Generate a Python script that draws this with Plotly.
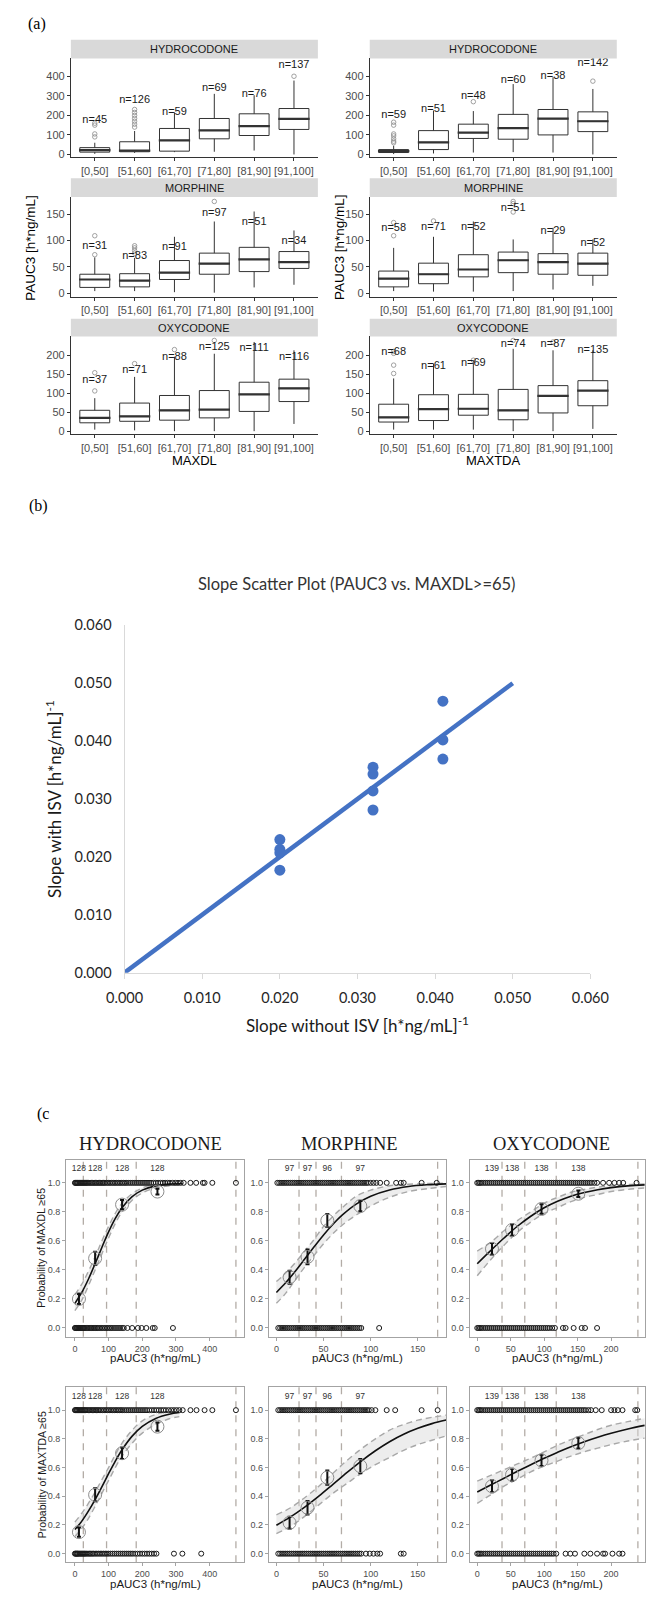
import plotly.graph_objects as go

W, H = 665, 1597

# ======================= Panel (a) data =======================
bins = ["[0,50]", "[51,60]", "[61,70]", "[71,80]", "[81,90]", "[91,100]"]

a_hyd_dl_low = [3, 8, 12, 14, 20, 0]
a_hyd_dl_q1 = [12, 14, 17, 80, 97, 128]
a_hyd_dl_med = [22, 20, 72, 123, 145, 182]
a_hyd_dl_q3 = [35, 65, 133, 184, 208, 235]
a_hyd_dl_high = [60, 120, 215, 310, 303, 378]
a_hyd_dl_out_bin = [0, 0, 0, 0, 1, 1, 1, 1, 1, 1, 1, 5]
a_hyd_dl_out_val = [90, 105, 150, 160, 140, 155, 170, 185, 200, 215, 230, 400]
a_hyd_dl_n = [45, 126, 59, 69, 76, 137]
a_hyd_dl_n_y = [174, 277, 218, 340, 310, 456]

a_hyd_da_low = [2, 5, 10, 12, 10, 0]
a_hyd_da_q1 = [10, 25, 82, 78, 100, 117]
a_hyd_da_med = [17, 62, 112, 135, 183, 170]
a_hyd_da_q3 = [25, 122, 155, 205, 230, 218]
a_hyd_da_high = [45, 225, 222, 360, 395, 335]
a_hyd_da_out_bin = [0, 0, 0, 0, 0, 0, 0, 2, 5]
a_hyd_da_out_val = [60, 68, 80, 95, 105, 150, 165, 270, 375]
a_hyd_da_n = [59, 51, 48, 60, 38, 142]
a_hyd_da_n_y = [199, 230, 298, 378, 400, 468]

a_mor_dl_low = [4, 4, 2, 1, 11, 16]
a_mor_dl_q1 = [11, 12, 26, 36, 41, 47]
a_mor_dl_med = [26, 24, 39, 56, 64, 59]
a_mor_dl_q3 = [36, 37, 62, 76, 87, 79]
a_mor_dl_high = [68, 67, 107, 136, 155, 119]
a_mor_dl_out_bin = [0, 0, 1, 1, 1, 1, 3]
a_mor_dl_out_val = [73, 109, 76, 81, 86, 90, 174]
a_mor_dl_n = [31, 83, 91, 97, 51, 34]
a_mor_dl_n_y = [89, 70, 87, 152, 134, 98]

a_mor_da_low = [4, 3, 3, 4, 7, 14]
a_mor_da_q1 = [12, 18, 31, 39, 36, 34]
a_mor_da_med = [27.5, 36, 45, 62.5, 59, 56]
a_mor_da_q3 = [42, 57, 73, 78, 75, 76]
a_mor_da_high = [86, 107, 136, 102, 124, 102]
a_mor_da_out_bin = [0, 0, 1, 3, 3, 3]
a_mor_da_out_val = [109, 134, 137, 154, 170, 174]
a_mor_da_n = [58, 71, 52, 51, 29, 52]
a_mor_da_n_y = [124, 125, 126, 162, 117, 94]

a_oxy_dl_low = [4, 2, 0, 0, 0, 19]
a_oxy_dl_q1 = [22, 26, 29, 35, 52, 78]
a_oxy_dl_med = [35, 39, 55, 57, 97, 113]
a_oxy_dl_q3 = [55, 74, 94, 107, 129, 137]
a_oxy_dl_high = [87, 143, 196, 204, 235, 213]
a_oxy_dl_out_bin = [0, 0, 1, 2, 3]
a_oxy_dl_out_val = [106, 154, 178, 215, 239]
a_oxy_dl_n = [37, 71, 88, 125, 111, 116]
a_oxy_dl_n_y = [135, 161, 196, 222, 219, 196]

a_oxy_da_low = [4, 4, 4, 0, 0, 6]
a_oxy_da_q1 = [24, 28, 42, 30, 48, 67]
a_oxy_da_med = [36.5, 58, 59, 55, 93, 107]
a_oxy_da_q3 = [71, 96, 97, 110, 120, 133]
a_oxy_da_high = [139, 178, 187, 217, 213, 213]
a_oxy_da_out_bin = [0, 0, 0, 0, 2, 3, 4]
a_oxy_da_out_val = [152, 174, 205, 210, 187, 239, 235]
a_oxy_da_n = [68, 61, 69, 74, 87, 135]
a_oxy_da_n_y = [207, 170, 178, 230, 230, 213]

# ======================= Panel (b) data =======================
b_slope_no_isv = [0.020, 0.020, 0.020, 0.020, 0.032, 0.032, 0.032, 0.032, 0.041, 0.041, 0.041]
b_slope_isv = [0.0230, 0.0213, 0.0207, 0.0177, 0.0355, 0.0343, 0.0314, 0.0281, 0.0469, 0.0402, 0.0369]
b_identity_x = [0.0, 0.050]
b_identity_y = [0.0, 0.050]
b_ticks = [0.0, 0.01, 0.02, 0.03, 0.04, 0.05, 0.06]

# ======================= Panel (c) data =======================
c_hyd_bounds = [25, 94, 182, 478]
c_mor_bounds = [24, 42, 69, 171]
c_oxy_bounds = [37, 71, 118, 240]
c_hyd_bin_x = [12, 60, 140, 245]
c_mor_bin_x = [14, 33, 54, 89]
c_oxy_bin_x = [22, 52, 96, 151]
c_hyd_bin_n = [128, 128, 128, 128]
c_mor_bin_n = [97, 97, 96, 97]
c_oxy_bin_n = [139, 138, 138, 138]

# MAXDL >= 65
c_hyd_dl_obs = [0.20, 0.48, 0.85, 0.94]
c_hyd_dl_err = [0.035, 0.045, 0.032, 0.02]
c_hyd_dl_fx = [0, 20, 40, 60, 80, 100, 120, 140, 170, 200, 240, 280, 320]
c_hyd_dl_fit = [0.170, 0.243, 0.336, 0.443, 0.555, 0.662, 0.755, 0.829, 0.905, 0.950, 0.979, 0.991, 0.996]
c_hyd_dl_lo = [0.12, 0.19, 0.29, 0.40, 0.51, 0.62, 0.72, 0.80, 0.88, 0.93, 0.965, 0.98, 0.99]
c_hyd_dl_hi = [0.23, 0.30, 0.39, 0.49, 0.60, 0.70, 0.79, 0.86, 0.925, 0.965, 0.99, 0.997, 0.999]
c_hyd_dl_yes = [0, 2, 4, 6, 8, 10, 13, 16, 19, 22, 25, 28, 31, 34, 37, 41, 45, 49, 53, 57, 61, 65, 69, 73,
                77, 81, 85, 89, 94, 99, 104, 109, 114, 119, 124, 129, 134, 139, 144, 149, 154, 160, 166,
                172, 178, 184, 190, 196, 202, 208, 214, 220, 226, 233, 240, 247, 254, 261, 268, 275, 282,
                290, 298, 306, 314, 323, 343, 360, 380, 385, 408, 478]
c_hyd_dl_no = [0, 2, 4, 6, 8, 10, 12, 15, 18, 21, 24, 27, 30, 34, 38, 42, 46, 50, 54, 58, 62, 66, 70, 75,
               80, 85, 90, 95, 100, 105, 110, 116, 122, 128, 134, 140, 145, 156, 170, 187, 198, 212, 231,
               237, 291]

c_mor_dl_obs = [0.35, 0.49, 0.74, 0.84]
c_mor_dl_err = [0.045, 0.05, 0.045, 0.035]
c_mor_dl_fx = [0, 10, 20, 30, 40, 50, 60, 70, 85, 100, 120, 140, 160, 180]
c_mor_dl_fit = [0.245, 0.313, 0.391, 0.475, 0.559, 0.641, 0.715, 0.779, 0.855, 0.908, 0.951, 0.975, 0.987, 0.993]
c_mor_dl_lo = [0.17, 0.24, 0.33, 0.42, 0.50, 0.58, 0.65, 0.71, 0.78, 0.84, 0.90, 0.94, 0.96, 0.975]
c_mor_dl_hi = [0.32, 0.38, 0.45, 0.53, 0.61, 0.70, 0.77, 0.83, 0.91, 0.95, 0.98, 0.99, 0.995, 0.998]
c_mor_dl_yes = [1, 3, 5, 7, 9, 11, 13, 15, 17, 19, 21, 23, 25, 27, 29, 31, 33, 35, 37, 39, 41, 43, 45, 47,
                49, 51, 53, 55, 57, 59, 61, 63, 65, 67, 69, 71, 73, 75, 77, 79, 81, 83, 85, 87, 89, 91, 93,
                95, 97, 100, 103, 106, 110, 117, 127, 132, 135, 154, 170]
c_mor_dl_no = [2, 4, 6, 8, 10, 12, 14, 16, 18, 20, 22, 24, 26, 28, 30, 32, 34, 36, 38, 40, 42, 44, 46, 48,
               50, 52, 54, 56, 58, 60, 62, 64, 66, 68, 70, 72, 74, 76, 78, 80, 82, 84, 86, 88, 90, 109]

c_oxy_dl_obs = [0.545, 0.675, 0.82, 0.925]
c_oxy_dl_err = [0.04, 0.04, 0.033, 0.022]
c_oxy_dl_fx = [0, 20, 40, 60, 80, 100, 120, 140, 160, 180, 200, 225, 250]
c_oxy_dl_fit = [0.443, 0.533, 0.620, 0.701, 0.770, 0.828, 0.873, 0.908, 0.934, 0.953, 0.967, 0.979, 0.986]
c_oxy_dl_lo = [0.36, 0.47, 0.57, 0.66, 0.73, 0.79, 0.83, 0.87, 0.90, 0.92, 0.94, 0.955, 0.965]
c_oxy_dl_hi = [0.53, 0.59, 0.67, 0.74, 0.80, 0.86, 0.90, 0.935, 0.955, 0.97, 0.98, 0.988, 0.993]
c_oxy_dl_yes = [0, 2, 4, 6, 9, 12, 15, 18, 21, 24, 27, 30, 33, 36, 39, 42, 45, 48, 51, 54, 57, 60, 63, 66,
                69, 72, 75, 78, 81, 84, 87, 90, 93, 96, 99, 102, 105, 108, 111, 114, 117, 120, 123, 126,
                129, 132, 135, 138, 141, 144, 147, 150, 153, 156, 159, 162, 165, 168, 171, 175, 179, 188,
                197, 205, 212, 218, 238]
c_oxy_dl_no = [0, 2, 4, 6, 9, 12, 15, 18, 21, 24, 27, 30, 33, 36, 39, 42, 45, 48, 51, 54, 57, 60, 63, 66,
               69, 72, 75, 78, 81, 84, 87, 90, 93, 96, 99, 102, 105, 108, 112, 116, 128, 132, 144, 156,
               161, 179]

# MAXTDA >= 65
c_hyd_da_obs = [0.15, 0.41, 0.70, 0.885]
c_hyd_da_err = [0.032, 0.045, 0.04, 0.028]
c_hyd_da_fx = [0, 20, 40, 60, 80, 100, 120, 140, 170, 200, 240, 280, 310]
c_hyd_da_fit = [0.168, 0.225, 0.296, 0.377, 0.466, 0.557, 0.645, 0.724, 0.819, 0.887, 0.942, 0.971, 0.983]
c_hyd_da_lo = [0.12, 0.175, 0.245, 0.33, 0.42, 0.51, 0.60, 0.68, 0.77, 0.84, 0.90, 0.94, 0.955]
c_hyd_da_hi = [0.22, 0.28, 0.35, 0.43, 0.515, 0.60, 0.69, 0.77, 0.86, 0.925, 0.97, 0.99, 0.995]
c_hyd_da_yes = [0, 2, 4, 6, 8, 11, 14, 17, 20, 23, 26, 29, 32, 36, 40, 44, 48, 52, 56, 60, 64, 68, 72, 77,
                82, 87, 92, 97, 102, 107, 112, 117, 122, 127, 132, 137, 142, 148, 154, 160, 166, 172, 178,
                184, 190, 196, 202, 208, 214, 221, 228, 235, 242, 249, 256, 263, 270, 278, 286, 294, 302,
                310, 320, 343, 361, 385, 408, 478]
c_hyd_da_no = [0, 2, 4, 6, 8, 10, 13, 16, 19, 22, 25, 28, 31, 35, 39, 43, 47, 51, 55, 60, 65, 70, 75, 80,
               85, 90, 95, 100, 106, 112, 118, 124, 130, 136, 142, 148, 154, 160, 166, 172, 179, 186, 193,
               200, 207, 214, 221, 228, 235, 242, 294, 319, 375]

c_mor_da_obs = [0.215, 0.32, 0.53, 0.61]
c_mor_da_err = [0.042, 0.047, 0.05, 0.05]
c_mor_da_fx = [0, 15, 30, 45, 60, 75, 90, 105, 120, 135, 150, 165, 180]
c_mor_da_fit = [0.198, 0.256, 0.324, 0.401, 0.483, 0.566, 0.645, 0.717, 0.780, 0.832, 0.873, 0.906, 0.931]
c_mor_da_lo = [0.14, 0.19, 0.26, 0.34, 0.42, 0.49, 0.56, 0.62, 0.67, 0.72, 0.76, 0.79, 0.82]
c_mor_da_hi = [0.27, 0.32, 0.39, 0.47, 0.56, 0.65, 0.73, 0.80, 0.86, 0.90, 0.93, 0.95, 0.965]
c_mor_da_yes = [2, 4, 6, 8, 10, 12, 14, 16, 18, 20, 22, 24, 26, 28, 30, 32, 34, 36, 38, 40, 42, 44, 46, 48,
                50, 52, 54, 56, 58, 60, 62, 64, 66, 68, 70, 72, 74, 76, 78, 80, 82, 84, 86, 88, 90, 92, 94,
                96, 98, 101, 105, 117, 126, 154, 171]
c_mor_da_no = [2, 4, 6, 8, 10, 12, 14, 16, 18, 20, 22, 24, 26, 28, 30, 32, 34, 36, 38, 40, 42, 44, 46, 48,
               50, 52, 54, 56, 58, 60, 62, 64, 66, 68, 70, 72, 74, 76, 78, 80, 82, 84, 86, 88, 90, 95, 99,
               103, 107, 110, 132, 135]

c_oxy_da_obs = [0.47, 0.55, 0.65, 0.77]
c_oxy_da_err = [0.042, 0.042, 0.04, 0.037]
c_oxy_da_fx = [0, 20, 40, 60, 80, 100, 120, 140, 160, 180, 200, 225, 250]
c_oxy_da_fit = [0.430, 0.478, 0.526, 0.574, 0.620, 0.665, 0.706, 0.745, 0.780, 0.811, 0.839, 0.869, 0.894]
c_oxy_da_lo = [0.35, 0.41, 0.47, 0.52, 0.57, 0.61, 0.645, 0.68, 0.71, 0.735, 0.76, 0.785, 0.805]
c_oxy_da_hi = [0.505, 0.545, 0.585, 0.625, 0.665, 0.71, 0.755, 0.795, 0.83, 0.865, 0.895, 0.92, 0.943]
c_oxy_da_yes = [0, 2, 4, 6, 9, 12, 15, 18, 21, 24, 27, 30, 33, 36, 39, 42, 45, 48, 51, 54, 57, 60, 63, 66,
                69, 72, 75, 78, 81, 84, 87, 90, 93, 96, 99, 102, 105, 108, 111, 114, 117, 120, 123, 126,
                129, 132, 135, 138, 141, 144, 147, 150, 153, 156, 159, 162, 166, 170, 177, 186, 200, 205,
                210, 217, 236, 239]
c_oxy_da_no = [0, 2, 4, 6, 9, 12, 15, 18, 21, 24, 27, 30, 33, 36, 39, 42, 45, 48, 51, 54, 57, 60, 63, 66,
               69, 72, 75, 78, 81, 84, 87, 90, 93, 96, 99, 102, 105, 108, 111, 114, 118, 132, 139, 146,
               160, 169, 179, 188, 191, 202, 212, 217]

# ======================= helpers =======================
SANS = "Liberation Sans, Arial, sans-serif"
SERIF = "Liberation Serif, Times New Roman, serif"
CAL = "Lato, Carlito, Calibri, sans-serif"

fig = go.Figure()
shapes = []
annotations = []


def names(i):
    s = '' if i == 1 else str(i)
    return 'x' + s, 'y' + s, 'xaxis' + s, 'yaxis' + s


def xd(l, r):
    return [l / W, r / W]


def yd(t, b):
    return [1 - b / H, 1 - t / H]


def px_x(v):
    return v / W


def px_y(v):
    return 1 - v / H


def text(x, y, s, size, family=SANS, color='#1a1a1a', angle=0, xanchor='center', yanchor='middle'):
    annotations.append(dict(x=px_x(x), y=px_y(y), xref='paper', yref='paper', text=s, showarrow=False,
                            font=dict(size=size, family=family, color=color), textangle=angle,
                            xanchor=xanchor, yanchor=yanchor))


def box_panel(i, l, r, t_strip, t, b, yrange, yticks, label, low, q1, med, q3, high, ob, ov, ns, ny):
    xr, yr, xa, ya = names(i)
    fig.add_trace(go.Box(x=bins, q1=q1, median=med, q3=q3, lowerfence=low, upperfence=high,
                         xaxis=xr, yaxis=yr, fillcolor='white', line=dict(color='#333333', width=1),
                         boxpoints=False, whiskerwidth=0, width=0.75, hoverinfo='skip', showlegend=False))
    fig.add_trace(go.Scatter(x=bins, y=med, xaxis=xr, yaxis=yr, mode='markers', hoverinfo='skip',
                             marker=dict(symbol='line-ew', size=22.4, color='#333333',
                                         line=dict(color='#333333', width=2.2))))
    fig.add_trace(go.Scatter(x=[bins[k] for k in ob], y=ov, xaxis=xr, yaxis=yr, mode='markers',
                             hoverinfo='skip',
                             marker=dict(symbol='circle-open', size=4.5, color='#8a8a8a',
                                         line=dict(width=0.8, color='#8a8a8a'))))
    fig.add_trace(go.Scatter(x=bins, y=ny, xaxis=xr, yaxis=yr, mode='text', hoverinfo='skip',
                             text=[f"n={n}" for n in ns],
                             textfont=dict(size=11, family=SANS, color='#1a1a1a')))
    fig.update_layout(**{
        xa: dict(domain=xd(l, r), anchor=yr, type='category', range=[-0.6, 5.6], showline=True,
                 linecolor='#333333', linewidth=1, ticks='outside', ticklen=3, tickcolor='#333333',
                 tickfont=dict(size=11, family=SANS, color='#4d4d4d'), showgrid=False, zeroline=False),
        ya: dict(domain=yd(t, b), anchor=xr, range=yrange, tickvals=yticks, showline=True,
                 linecolor='#333333', linewidth=1, ticks='outside', ticklen=3, tickcolor='#333333',
                 tickfont=dict(size=11, family=SANS, color='#4d4d4d'), showgrid=False, zeroline=False),
    })
    shapes.append(dict(type='rect', xref='paper', yref='paper', x0=px_x(l), x1=px_x(r),
                       y0=px_y(t), y1=px_y(t_strip), fillcolor='#d9d9d9', line=dict(width=0), layer='below'))
    text((l + r) / 2, (t_strip + t) / 2, label, 11, color='#1a1a1a')


# ---------------- Panel (a) ----------------
LC = (55, 317)
RC = (372, 634)
ROW1 = (31, 50, 150, [-15, 491], [0, 100, 200, 300, 400])
ROW2 = (171, 190, 291, [-7, 182.5], [0, 50, 100, 150])
ROW3 = (313, 331, 430, [-8.6, 249.5], [0, 50, 100, 150, 200])

box_panel(1, *LC, *ROW1[:3], ROW1[3], ROW1[4], 'HYDROCODONE', a_hyd_dl_low, a_hyd_dl_q1, a_hyd_dl_med,
          a_hyd_dl_q3, a_hyd_dl_high, a_hyd_dl_out_bin, a_hyd_dl_out_val, a_hyd_dl_n, a_hyd_dl_n_y)
box_panel(2, *RC, *ROW1[:3], ROW1[3], ROW1[4], 'HYDROCODONE', a_hyd_da_low, a_hyd_da_q1, a_hyd_da_med,
          a_hyd_da_q3, a_hyd_da_high, a_hyd_da_out_bin, a_hyd_da_out_val, a_hyd_da_n, a_hyd_da_n_y)
box_panel(3, *LC, *ROW2[:3], ROW2[3], ROW2[4], 'MORPHINE', a_mor_dl_low, a_mor_dl_q1, a_mor_dl_med,
          a_mor_dl_q3, a_mor_dl_high, a_mor_dl_out_bin, a_mor_dl_out_val, a_mor_dl_n, a_mor_dl_n_y)
box_panel(4, *RC, *ROW2[:3], ROW2[3], ROW2[4], 'MORPHINE', a_mor_da_low, a_mor_da_q1, a_mor_da_med,
          a_mor_da_q3, a_mor_da_high, a_mor_da_out_bin, a_mor_da_out_val, a_mor_da_n, a_mor_da_n_y)
box_panel(5, *LC, *ROW3[:3], ROW3[3], ROW3[4], 'OXYCODONE', a_oxy_dl_low, a_oxy_dl_q1, a_oxy_dl_med,
          a_oxy_dl_q3, a_oxy_dl_high, a_oxy_dl_out_bin, a_oxy_dl_out_val, a_oxy_dl_n, a_oxy_dl_n_y)
box_panel(6, *RC, *ROW3[:3], ROW3[3], ROW3[4], 'OXYCODONE', a_oxy_da_low, a_oxy_da_q1, a_oxy_da_med,
          a_oxy_da_q3, a_oxy_da_high, a_oxy_da_out_bin, a_oxy_da_out_val, a_oxy_da_n, a_oxy_da_n_y)

text(7, 15, '(a)', 16, family=SERIF, color='#000000', xanchor='left')
text(12, 241, 'PAUC3 [h*ng/mL]', 13.5, color='#000000', angle=-90)
text(340, 241, 'PAUC3 [h*ng/mL]', 13.5, color='#000000', angle=-90)
text(186, 456, 'MAXDL', 13, color='#000000')
text(503, 456, 'MAXTDA', 13, color='#000000')

# ---------------- Panel (b) ----------------
BL, BR, BT, BB = 112, 606, 623, 974
fig.add_trace(go.Scatter(x=b_identity_x, y=b_identity_y, xaxis='x7', yaxis='y7', mode='lines',
                         hoverinfo='skip', line=dict(color='#4472C4', width=4.5)))
fig.add_trace(go.Scatter(x=b_slope_no_isv, y=b_slope_isv, xaxis='x7', yaxis='y7', mode='markers',
                         hoverinfo='skip', marker=dict(color='#4472C4', size=11)))
fig.update_layout(
    xaxis7=dict(domain=xd(BL, BR), anchor='y7', range=[0, 0.06], tickvals=b_ticks, tickformat='.3f',
                showline=True, linecolor='#d9d9d9', linewidth=1.3, ticks='outside', ticklen=5,
                tickcolor='#d9d9d9', showgrid=False, zeroline=False, ticklabelstandoff=7,
                tickfont=dict(size=14.5, family=CAL, color='#262626')),
    yaxis7=dict(domain=yd(BT, BB), anchor='x7', range=[0, 0.06], tickvals=b_ticks, tickformat='.3f',
                showline=True, linecolor='#d9d9d9', linewidth=1.3, ticks='', showgrid=False,
                zeroline=False, ticklabelstandoff=9, tickfont=dict(size=14.5, family=CAL, color='#262626')),
)
text(8, 502, '(b)', 16, family=SERIF, color='#000000', xanchor='left')
text((BL + BR) / 2, 581, 'Slope Scatter Plot (PAUC3 vs. MAXDL>=65)', 16.5, family=CAL, color='#333333')
text((BL + BR) / 2, 1026, 'Slope without ISV [h*ng/mL]<sup>-1</sup>', 17, family=CAL, color='#1a1a1a')
text(36, (BT + BB) / 2, 'Slope with ISV [h*ng/mL]<sup>-1</sup>', 17, family=CAL, color='#1a1a1a', angle=-90)

# ---------------- Panel (c) ----------------


def logit_panel(i, l, r, t, b, xrange, xticks, bounds, bx, bn, obs, err, fx, fit, lo, hi, yes, no):
    xr, yr, xa, ya = names(i)
    kw = dict(xaxis=xr, yaxis=yr, hoverinfo='skip')
    fig.add_trace(go.Scatter(x=fx, y=lo, mode='lines', line=dict(color='#a8a8a8', width=1.4, dash='6px,4px',
                                                                 shape='spline'), **kw))
    fig.add_trace(go.Scatter(x=fx, y=hi, mode='lines', fill='tonexty', fillcolor='rgba(215,215,215,0.45)',
                             line=dict(color='#a8a8a8', width=1.4, dash='6px,4px', shape='spline'), **kw))
    pt = dict(symbol='circle-open', size=5, color='#1a1a1a', line=dict(width=1.0, color='#1a1a1a'))
    fig.add_trace(go.Scatter(x=yes, y=[1.0] * len(yes), mode='markers', marker=pt, **kw))
    fig.add_trace(go.Scatter(x=no, y=[0.0] * len(no), mode='markers', marker=pt, **kw))
    fig.add_trace(go.Scatter(x=fx, y=fit, mode='lines', line=dict(color='#111111', width=1.6, shape='spline'),
                             **kw))
    fig.add_trace(go.Scatter(x=bx, y=obs, mode='markers',
                             marker=dict(symbol='circle-open', size=13, color='#8c8c8c',
                                         line=dict(width=1, color='#8c8c8c')),
                             error_y=dict(type='data', array=err, color='#111111', thickness=2, width=2),
                             **kw))
    fig.add_trace(go.Scatter(x=bx, y=[1.095] * len(bx), mode='text', text=[str(n) for n in bn],
                             textfont=dict(size=8.5, family=SANS, color='#333333'), **kw))
    for v in bounds:
        shapes.append(dict(type='line', xref=xr, yref=yr + ' domain', x0=v, x1=v, y0=0, y1=1,
                           line=dict(color='#b3aca6', width=1.3, dash='7px,7px'), layer='below'))
    fig.update_layout(**{
        xa: dict(domain=xd(l, r), anchor=yr, range=xrange, tickvals=xticks, showline=True, mirror=True,
                 linecolor='#a3a3a3', linewidth=1, ticks='outside', ticklen=3, tickcolor='#a3a3a3',
                 tickfont=dict(size=9, family=SANS, color='#4d4d4d'), showgrid=False, zeroline=False),
        ya: dict(domain=yd(t, b), anchor=xr, range=[-0.06, 1.16], tickvals=[0, 0.2, 0.4, 0.6, 0.8, 1.0],
                 tickformat='.1f', showline=True, mirror=True, linecolor='#a3a3a3', linewidth=1,
                 ticks='outside', ticklen=3, tickcolor='#a3a3a3',
                 tickfont=dict(size=9, family=SANS, color='#4d4d4d'), showgrid=False, zeroline=False),
    })
    text((l + r) / 2, b + 22, 'pAUC3 (h*ng/mL)', 11.5, color='#1a1a1a')


HC = (50, 239, [-26, 503], [0, 100, 200, 300, 400])
MC = (265, 453, [-8, 180], [0, 50, 100, 150])
OC = (478, 664, [-11.3, 250.7], [0, 50, 100, 150, 200])
R1 = (1163, 1342)
R2 = (1393, 1570)

logit_panel(8, HC[0], HC[1], *R1, HC[2], HC[3], c_hyd_bounds, c_hyd_bin_x, c_hyd_bin_n, c_hyd_dl_obs,
            c_hyd_dl_err, c_hyd_dl_fx, c_hyd_dl_fit, c_hyd_dl_lo, c_hyd_dl_hi, c_hyd_dl_yes, c_hyd_dl_no)
logit_panel(9, MC[0], MC[1], *R1, MC[2], MC[3], c_mor_bounds, c_mor_bin_x, c_mor_bin_n, c_mor_dl_obs,
            c_mor_dl_err, c_mor_dl_fx, c_mor_dl_fit, c_mor_dl_lo, c_mor_dl_hi, c_mor_dl_yes, c_mor_dl_no)
logit_panel(10, OC[0], OC[1], *R1, OC[2], OC[3], c_oxy_bounds, c_oxy_bin_x, c_oxy_bin_n, c_oxy_dl_obs,
            c_oxy_dl_err, c_oxy_dl_fx, c_oxy_dl_fit, c_oxy_dl_lo, c_oxy_dl_hi, c_oxy_dl_yes, c_oxy_dl_no)
logit_panel(11, HC[0], HC[1], *R2, HC[2], HC[3], c_hyd_bounds, c_hyd_bin_x, c_hyd_bin_n, c_hyd_da_obs,
            c_hyd_da_err, c_hyd_da_fx, c_hyd_da_fit, c_hyd_da_lo, c_hyd_da_hi, c_hyd_da_yes, c_hyd_da_no)
logit_panel(12, MC[0], MC[1], *R2, MC[2], MC[3], c_mor_bounds, c_mor_bin_x, c_mor_bin_n, c_mor_da_obs,
            c_mor_da_err, c_mor_da_fx, c_mor_da_fit, c_mor_da_lo, c_mor_da_hi, c_mor_da_yes, c_mor_da_no)
logit_panel(13, OC[0], OC[1], *R2, OC[2], OC[3], c_oxy_bounds, c_oxy_bin_x, c_oxy_bin_n, c_oxy_da_obs,
            c_oxy_da_err, c_oxy_da_fx, c_oxy_da_fit, c_oxy_da_lo, c_oxy_da_hi, c_oxy_da_yes, c_oxy_da_no)

text(17, 1117, '(c', 16, family=SERIF, color='#000000', xanchor='left')
text(139, 1147, 'HYDROCODONE', 18.5, family=SERIF, color='#1a1a1a')
text(350, 1147, 'MORPHINE', 18.5, family=SERIF, color='#1a1a1a')
text(565, 1147, 'OXYCODONE', 18.5, family=SERIF, color='#1a1a1a')
text(24, (R1[0] + R1[1]) / 2, 'Probability of MAXDL \u226565', 10.5, color='#1a1a1a', angle=-90)
text(24, (R2[0] + R2[1]) / 2, 'Probability of MAXTDA \u226565', 10.5, color='#1a1a1a', angle=-90)

fig.update_layout(width=W, height=H, margin=dict(l=0, r=0, t=0, b=0), paper_bgcolor='white',
                  plot_bgcolor='white', showlegend=False, shapes=shapes, annotations=annotations)

fig.write_html("out.html")
